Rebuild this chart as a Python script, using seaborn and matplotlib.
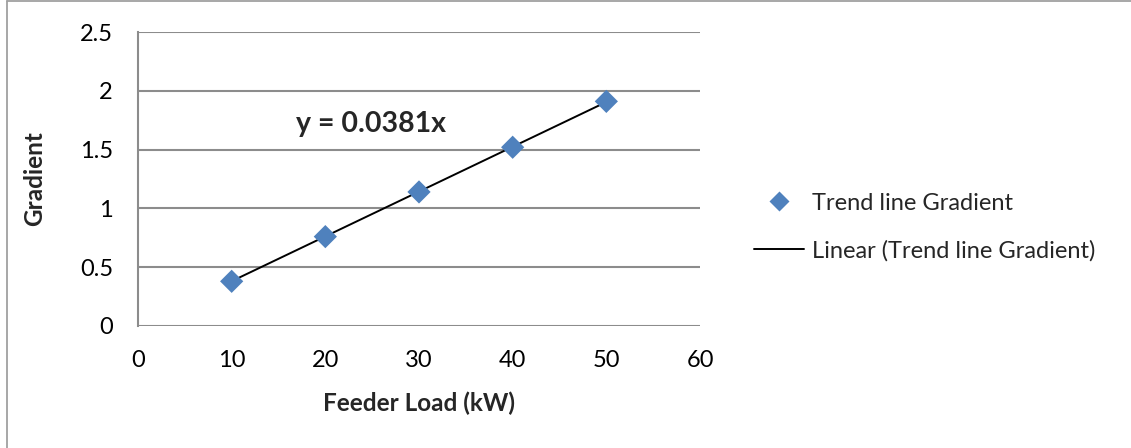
import numpy as np
import pandas as pd
import matplotlib
matplotlib.use("Agg")
import matplotlib.pyplot as plt
import seaborn as sns
from matplotlib.lines import Line2D

# data
feeder_load = [10, 20, 30, 40, 50]
gradient = [0.38, 0.76, 1.14, 1.52, 1.91]
slope = 0.0381
x_ticks = [0, 10, 20, 30, 40, 50, 60]
y_ticks = [0, 0.5, 1, 1.5, 2, 2.5]

sns.set_style("white")
plt.rcParams["font.family"] = ["Lato", "DejaVu Sans"]

df = pd.DataFrame({"load": feeder_load, "grad": gradient})
fit = pd.DataFrame({"load": feeder_load, "grad": [slope * v for v in feeder_load]})

fig = plt.figure(figsize=(11.31, 4.48), dpi=100)
ax = fig.add_axes([138 / 1131, 1 - 326 / 448, (700 - 138) / 1131, (326 - 32) / 448])

blue = "#4F81BD"
grid_col = "#8C8C8C"

for yv in y_ticks:
    ax.axhline(yv, color=grid_col, lw=1.5, zorder=0)

sns.lineplot(data=fit, x="load", y="grad", color="black", lw=1.4, ax=ax, zorder=2, legend=False)
sns.scatterplot(data=df, x="load", y="grad", marker="D", s=140, color=blue,
                edgecolor="none", ax=ax, zorder=3, legend=False)

ax.set_xlim(0, 60)
ax.set_ylim(0, 2.5)
ax.set_xticks(x_ticks)
ax.set_yticks(y_ticks)
ax.set_xticklabels([str(v) for v in x_ticks])
ax.set_yticklabels(["0", "0.5", "1", "1.5", "2", "2.5"])
ax.tick_params(axis="both", length=0, labelsize=17, colors="black")
ax.tick_params(axis="x", pad=17)
ax.tick_params(axis="y", pad=18)

for side in ["top", "right", "bottom"]:
    ax.spines[side].set_visible(False)
ax.spines["left"].set_color(grid_col)
ax.spines["left"].set_linewidth(1.5)

ax.set_xlabel("Feeder Load (kW)", fontsize=17.5, fontweight="bold", labelpad=15)
ax.set_ylabel("Gradient", fontsize=17.5, fontweight="bold", labelpad=24)

ax.text(16.9, 1.72, "y = 0.0381x", fontsize=20.5, fontweight="bold", ha="left", va="center")

handles = [
    Line2D([], [], marker="D", color=blue, ls="none", markersize=10, markeredgecolor="none"),
    Line2D([], [], color="black", lw=1.4),
]
fig.legend(handles, ["Trend line Gradient", "Linear (Trend line Gradient)"],
           loc="center left", bbox_to_anchor=(754 / 1131, 1 - 227 / 448),
           frameon=False, fontsize=17, handlelength=2.1, handletextpad=0.35,
           labelspacing=1.1, borderaxespad=0, borderpad=0)

# outer chart border
fig.add_artist(plt.Line2D([0.006, 0.006], [0, 0.997], color="#A0A0A0", lw=1.3, transform=fig.transFigure))
fig.add_artist(plt.Line2D([0.006, 1], [0.997, 0.997], color="#A0A0A0", lw=1.3, transform=fig.transFigure))

fig.savefig("out.png", dpi=100)
